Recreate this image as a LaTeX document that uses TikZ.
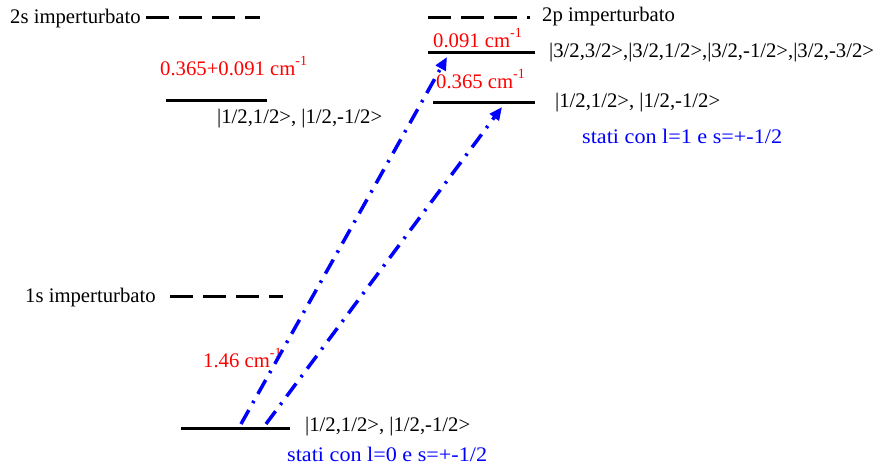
\documentclass[tikz,border=0pt]{standalone}
\usepackage{fontspec}
\setmainfont{Liberation Serif}
\usetikzlibrary{arrows.meta}
\newcommand{\invcm}{cm\raisebox{10pt}{\fontsize{14}{14}\selectfont -1}}
\begin{document}
\begin{tikzpicture}[x=1pt,y=-1pt,
  txt/.style={anchor=base west,inner sep=0pt,font=\fontsize{20.7}{24}\selectfont},
  red txt/.style={txt,text=red},
  blue txt/.style={txt,text=blue},
  level/.style={line width=3pt},
  unpert/.style={line width=3pt,dash pattern=on 23pt off 10pt},
  trans/.style={blue,line width=3.5pt,dash pattern=on 16pt off 8pt on 2.5pt off 8pt,
    -{Triangle[length=13pt,width=11pt]}}]
\useasboundingbox (0,0) rectangle (875,466);
% unperturbed levels
\coordinate (s2a) at (146,17); \coordinate (s2b) at (260,17);
\coordinate (p2a) at (428,17); \coordinate (p2b) at (530,17);
\coordinate (s1a) at (170,296); \coordinate (s1b) at (283,296);
\draw[unpert] (s2a) -- (s2b);
\draw[unpert] (p2a) -- (p2b);
\draw[unpert] (s1a) -- (s1b);
% perturbed levels
\coordinate (s2la) at (166,100); \coordinate (s2lb) at (267,100);
\coordinate (p32a) at (428,52); \coordinate (p32b) at (535,52);
\coordinate (p12a) at (433,102); \coordinate (p12b) at (535,102);
\coordinate (s1la) at (181,428); \coordinate (s1lb) at (290,428);
\draw[level] (s2la) -- (s2lb);
\draw[level] (p32a) -- (p32b);
\draw[level] (p12a) -- (p12b);
\draw[level] (s1la) -- (s1lb);
% texts
\node[txt] (t2s) at (10,23) {2s imperturbato};
\node[txt] (t2p) at (542,21) {2p imperturbato};
\node[txt] (t1s) at (25,302) {1s imperturbato};
\node[red txt] (d2s) at (160,75) {0.365+0.091 \invcm};
\node[red txt] (d32) at (433,47) {0.091 \invcm};
\node[red txt] (d12) at (436,88) {0.365 \invcm};
\node[red txt] (d1s) at (203,367) {1.46 \invcm};
\node[txt] (k2s) at (217,123) {|1/2,1/2>, |1/2,-1/2>};
\node[txt] (k32) at (549,57) {|3/2,3/2>,|3/2,1/2>,|3/2,-1/2>,|3/2,-3/2>};
\node[txt] (k12) at (555,107) {|1/2,1/2>, |1/2,-1/2>};
\node[txt] (k1s) at (305,431) {|1/2,1/2>, |1/2,-1/2>};
\node[blue txt,xscale=1.07,transform shape] (st1) at (582,143) {stati con l=1 e s=+-1/2};
\node[blue txt,xscale=1.07,transform shape] (st0) at (287,461) {stati con l=0 e s=+-1/2};
% transitions
\coordinate (a1s) at (241,424); \coordinate (a1e) at (447,57);
\coordinate (a2s) at (266,424); \coordinate (a2e) at (502,107);
\draw[trans] (a1s) -- (a1e);
\draw[trans] (a2s) -- (a2e);
\end{tikzpicture}
\end{document}
